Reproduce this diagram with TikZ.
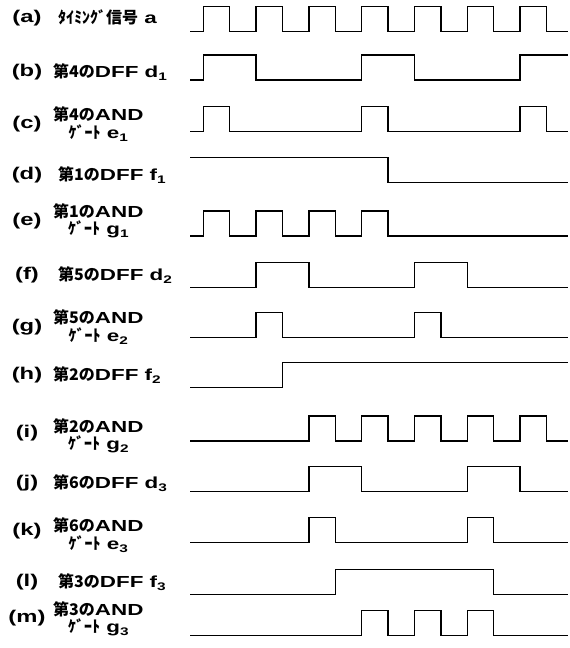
\documentclass[tikz,border=0pt]{standalone}
\usepackage{fontspec}
\usepackage{tikz}
\newfontfamily\jpfont{Noto Sans CJK JP}
\newfontfamily\latfont{Liberation Sans}[FakeStretch=1.4]
% small index after a signal name
\newcommand{\subn}[1]{\raisebox{-0.35ex}{\fontsize{11}{11}\selectfont #1}}
\newcommand{\dffname}[3]{{\jpfont 第#1の}DFF #2\subn{#3}}
\newcommand{\andname}[3]{{\jpfont 第#1の}AND\\{\jpfont ｹﾞｰﾄ} #2\subn{#3}}

\begin{document}
\begin{tikzpicture}[
    x=1pt, y=1pt,
    tag/.style={font=\latfont\bfseries\fontsize{17}{18}\selectfont, inner sep=0pt},
    lbl/.style={anchor=west, align=center, inner sep=0pt,
                font=\latfont\bfseries\fontsize{16}{17.5}\selectfont},
    sig/.style={line width=1.4pt},
    row/.style={shift={(203.3pt,#1pt)}, x=26.4pt, y=25pt}
]
\useasboundingbox (0,0) rectangle (570,-648);

% row labels
\node[tag] (ta) at (27,-18)  {(a)};
\node[tag] (tb) at (27,-72)  {(b)};
\node[tag] (tc) at (27,-124) {(c)};
\node[tag] (td) at (27,-175) {(d)};
\node[tag] (te) at (27,-221) {(e)};
\node[tag] (tf) at (27,-275) {(f)};
\node[tag] (tg) at (27,-327) {(g)};
\node[tag] (th) at (27,-375) {(h)};
\node[tag] (ti) at (27,-433) {(i)};
\node[tag] (tj) at (27,-483) {(j)};
\node[tag] (tk) at (27,-531) {(k)};
\node[tag] (tl) at (27,-582) {(l)};
\node[tag] (tm) at (27,-618) {(m)};

\node[lbl] (la) at (58,-17)  {{\jpfont ﾀｲﾐﾝｸﾞ信号} a};
\node[lbl] (lb) at (53,-72)  {\dffname{4}{d}{1}};
\node[lbl] (lc) at (53,-124) {\andname{4}{e}{1}};
\node[lbl] (ld) at (58,-175) {\dffname{1}{f}{1}};
\node[lbl] (le) at (53,-221) {\andname{1}{g}{1}};
\node[lbl] (lf) at (58,-275) {\dffname{5}{d}{2}};
\node[lbl] (lg) at (53,-327) {\andname{5}{e}{2}};
\node[lbl] (lh) at (53,-375) {\dffname{2}{f}{2}};
\node[lbl] (li) at (53,-436) {\andname{2}{g}{2}};
\node[lbl] (lj) at (53,-483) {\dffname{6}{d}{3}};
\node[lbl] (lk) at (53,-535) {\andname{6}{e}{3}};
\node[lbl] (ll) at (58,-582) {\dffname{3}{f}{3}};
\node[lbl] (lm) at (53,-619) {\andname{3}{g}{3}};

% waveforms
\begin{scope}[row=-31.7]
  \draw[sig] (-0.5,0) \foreach \k in {0,2,...,12} { -| (\k,1) -| (\k+1,0) } -- (13.8,0);
\end{scope}
\begin{scope}[row=-80]
  \draw[sig] (-0.5,0) -| (0,1) -| (2,0) -| (6,1) -| (8,0) -| (12,1) -- (13.8,1);
\end{scope}
\begin{scope}[row=-131.7]
  \draw[sig] (-0.5,0) \foreach \k in {0,6,12} { -| (\k,1) -| (\k+1,0) } -- (13.8,0);
\end{scope}
\begin{scope}[row=-182.7]
  \draw[sig] (-0.5,1) -| (7,0) -- (13.8,0);
\end{scope}
\begin{scope}[row=-236]
  \draw[sig] (-0.5,0) \foreach \k in {0,2,4,6} { -| (\k,1) -| (\k+1,0) } -- (13.8,0);
\end{scope}
\begin{scope}[row=-287.7]
  \draw[sig] (-0.5,0) -| (2,1) -| (4,0) -| (8,1) -| (10,0) -- (13.8,0);
\end{scope}
\begin{scope}[row=-337.7]
  \draw[sig] (-0.5,0) \foreach \k in {2,8} { -| (\k,1) -| (\k+1,0) } -- (13.8,0);
\end{scope}
\begin{scope}[row=-387.3]
  \draw[sig] (-0.5,0) -| (3,1) -- (13.8,1);
\end{scope}
\begin{scope}[row=-441]
  \draw[sig] (-0.5,0) \foreach \k in {4,6,...,12} { -| (\k,1) -| (\k+1,0) } -- (13.8,0);
\end{scope}
\begin{scope}[row=-491.7]
  \draw[sig] (-0.5,0) -| (4,1) -| (6,0) -| (10,1) -| (12,0) -- (13.8,0);
\end{scope}
\begin{scope}[row=-542.3]
  \draw[sig] (-0.5,0) \foreach \k in {4,10} { -| (\k,1) -| (\k+1,0) } -- (13.8,0);
\end{scope}
\begin{scope}[row=-594.3]
  \draw[sig] (-0.5,0) -| (5,1) -| (11,0) -- (13.8,0);
\end{scope}
\begin{scope}[row=-635.7]
  \draw[sig] (-0.5,0) \foreach \k in {6,8,10} { -| (\k,1) -| (\k+1,0) } -- (13.8,0);
\end{scope}
\end{tikzpicture}
\end{document}
